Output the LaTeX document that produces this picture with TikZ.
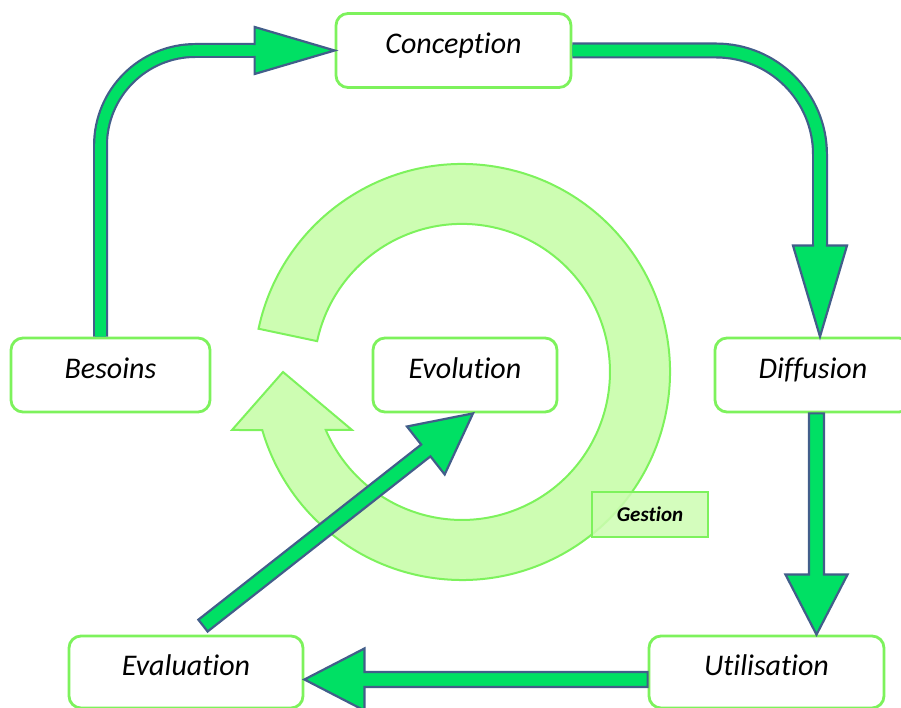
\documentclass[tikz,border=0pt]{standalone}
\usepackage{fontspec}
\setmainfont{Carlito}[Ligatures=NoCommon]
\usetikzlibrary{calc}

\definecolor{boxline}{RGB}{125,242,92}
\definecolor{ringfill}{RGB}{205,253,178}
\definecolor{arrowfill}{RGB}{0,224,100}
\definecolor{arrowline}{RGB}{66,94,138}

\tikzset{
  stage/.style={draw=boxline, line width=2.8pt, fill=white, rounded corners=12pt,
    minimum height=74pt, inner sep=0pt,
    font=\fontsize{30}{36}\selectfont\itshape,
    text height=0.82em, text depth=0.12em},
  tag/.style={draw=boxline, line width=2.8pt, fill=ringfill, fill opacity=0.85,
    text opacity=1, inner sep=0pt, minimum width=116pt, minimum height=45pt,
    font=\fontsize{21}{25}\selectfont\bfseries\itshape},
  ring/.style={fill=ringfill, draw=boxline, line width=2pt, line join=miter},
  shaft/.style={draw=arrowline, double=arrowfill, double distance=#1,
    line width=2.2pt, line cap=butt},
  head/.style={fill=arrowfill, draw=arrowline, line width=2.2pt, line join=miter},
}

% straight block arrow: tail, tip, half shaft width, half head width, head length
\newcommand\stagearrow[5]{%
  \coordinate (sa-h) at ($(#2)!#5!(#1)$);
  \filldraw[head] ($(#1)!#3!90:(#2)$) -- ($(sa-h)!#3!90:(#2)$)
    -- ($(sa-h)!#4!90:(#2)$) -- (#2) -- ($(sa-h)!#4!-90:(#2)$)
    -- ($(sa-h)!#3!-90:(#2)$) -- ($(#1)!#3!-90:(#2)$) -- cycle;
}
% head only, for curved shafts: point behind the tip, tip, half shaft, half head, length
\newcommand\stagehead[5]{%
  \coordinate (sh-h) at ($(#2)!#5!(#1)$);
  \filldraw[head] ($(sh-h)!#3!90:(#2)$) -- ($(sh-h)!#4!90:(#2)$) -- (#2)
    -- ($(sh-h)!#4!-90:(#2)$) -- ($(sh-h)!#3!-90:(#2)$);
}

\begin{document}
\begin{tikzpicture}[x=1pt, y=1pt]
\useasboundingbox (0,0) rectangle (901,708);
\clip (0,0) rectangle (901,708);

% management cycle ring
\coordinate (hub) at (462,336);
\filldraw[ring] (hub) ++(168:208) arc[start angle=168, end angle=-163.8, radius=208]
  -- (232,278) -- (283,336) -- (352,278) -- (325.8,278)
  arc[start angle=-156.9, end angle=168, radius=148] -- cycle;

\node[tag] (gest) at (650,193.5) {Gestion};

% stages
\node[stage, minimum width=235pt] (conc) at (453.5,657.5) {Conception};
\node[stage, minimum width=199pt] (bes) at (110.5,333) {Besoins};
\node[stage, minimum width=184pt] (evo) at (465,333) {Evolution};
\node[stage, minimum width=196pt] (dif) at (813,333) {Diffusion};
\node[stage, minimum width=234pt, minimum height=72pt] (eval) at (186,36) {Evaluation};
\node[stage, minimum width=235pt, minimum height=72pt] (util) at (766.5,36) {Utilisation};

% Besoins -> Conception
\coordinate (a1s) at ($(bes.north)+(-10,0)$);
\coordinate (a1e) at ($(conc.west)+(-79,0)$);
\coordinate (a1b) at ($(conc.west)+(-120,0)$);
\draw[shaft=10.6pt, rounded corners=95pt] (a1s) |- (a1e);
\stagehead{a1b}{conc.west}{5.3pt}{23.5pt}{80pt}

% Conception -> Diffusion
\coordinate (a2t) at ($(dif.north)+(7,0)$);
\coordinate (a2e) at ($(a2t)+(0,90)$);
\coordinate (a2b) at ($(a2t)+(0,130)$);
\draw[shaft=11.6pt, rounded corners=104pt] (conc.east) -| (a2e);
\stagehead{a2b}{a2t}{5.8pt}{27pt}{91pt}

% Diffusion -> Utilisation
\coordinate (a3s) at ($(dif.south)+(3.5,0)$);
\coordinate (a3t) at (a3s |- util.north);
\stagearrow{a3s}{a3t}{7.5pt}{31pt}{60pt}

% Utilisation -> Evaluation
\coordinate (a4s) at ($(util.west)+(0,-7.5)$);
\coordinate (a4t) at (a4s -| eval.east);
\stagearrow{a4s}{a4t}{7.5pt}{31pt}{60pt}

% Evaluation -> Evolution
\coordinate (a5s) at ($(eval.north)+(17,9)$);
\coordinate (a5t) at ($(evo.south)+(8,0)$);
\stagearrow{a5s}{a5t}{7.5pt}{30.5pt}{60pt}
\end{tikzpicture}
\end{document}
